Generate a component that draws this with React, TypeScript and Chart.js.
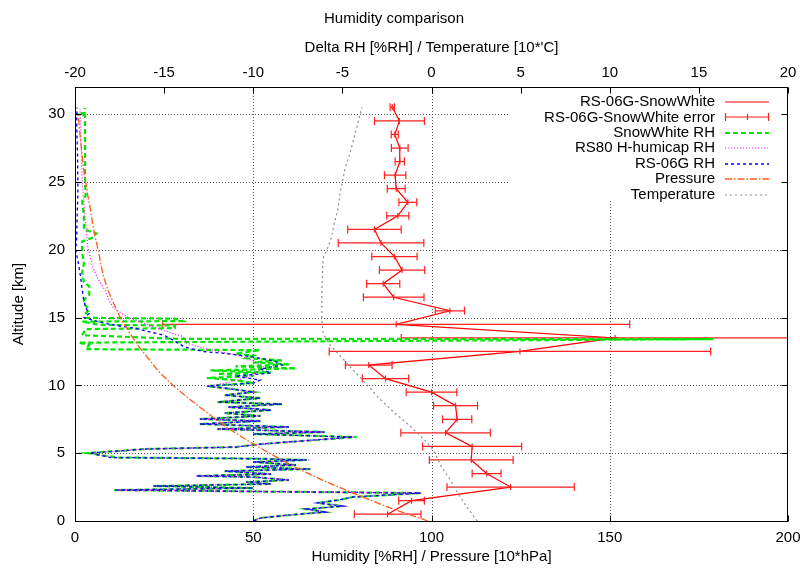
import React, { useEffect, useRef } from "react";
import { Chart, registerables } from "chart.js";

Chart.register(...registerables);

const FONT_FAMILY = "'Liberation Sans', Arial, Helvetica, sans-serif";

// ---------------- data ----------------
const humidityTicks = [0, 50, 100, 150, 200];
const deltaTicks = [-20, -15, -10, -5, 0, 5, 10, 15, 20];
const altitudeTicks = [0, 5, 10, 15, 20, 25, 30];

const seriesNames = [
  "RS-06G-SnowWhite",
  "RS-06G-SnowWhite error",
  "SnowWhite RH",
  "RS80 H-humicap RH",
  "RS-06G RH",
  "Pressure",
  "Temperature",
];

// RS-06G minus SnowWhite difference (top axis) with x error bars
const deltaAlt = [0.5, 1.5, 2.5, 3.5, 4.5, 5.5, 6.5, 7.5, 8.5, 9.5, 10.5, 11.5, 12.5, 13.5, 14.5, 15.5, 16.5, 17.5, 18.5, 19.5, 20.5, 21.5, 22.5, 23.5, 24.5, 25.5, 26.5, 27.5, 28.5, 29.5, 30.5];
const deltaRH = [-2.46, -1.12, 4.44, 3.09, 2.23, 2.28, 0.79, 1.44, 1.35, 0.0, -2.58, -3.52, 4.96, 10.3, -1.98, 1.03, -2.12, -2.71, -1.65, -2.08, -2.83, -3.2, -1.89, -1.33, -1.98, -2.04, -1.78, -1.78, -2.06, -1.8, -2.2];
const deltaErr = [1.87, 0.72, 3.57, 0.81, 2.35, 2.78, 2.51, 0.82, 1.23, 1.42, 1.3, 1.31, 10.7, 12.0, 13.1, 0.82, 1.7, 0.93, 1.27, 1.27, 2.4, 1.5, 0.62, 0.5, 0.5, 0.6, 0.26, 0.47, 0.2, 1.4, 0.12];

// SnowWhite RH
const swAlt = [0.0, 0.22, 0.44, 0.66, 0.88, 1.1, 1.33, 1.55, 1.77, 1.95, 2.06, 2.28, 2.43, 2.58, 2.73, 2.87, 3.02, 3.24, 3.32, 3.46, 3.68, 3.83, 3.98, 4.13, 4.35, 4.5, 4.6, 4.68, 5.01, 5.31, 5.45, 5.67, 6.19, 6.41, 6.56, 6.78, 6.93, 7.15, 7.37, 7.52, 7.74, 7.96, 8.18, 8.4, 8.62, 8.77, 9.06, 9.28, 9.51, 9.73, 9.95, 10.17, 10.39, 10.55, 10.69, 10.85, 10.95, 11.1, 11.25, 11.4, 11.55, 11.7, 11.85, 12.0, 12.2, 12.35, 12.6, 12.67, 13.0, 13.15, 13.41, 13.43, 13.7, 14.15, 14.22, 14.42, 14.46, 14.7, 14.74, 14.92, 14.98, 15.3, 15.6, 16.0, 16.3, 16.7, 17.3, 17.6, 18.3, 19.0, 19.8, 20.6, 20.9, 21.2, 21.5, 22.5, 23.6, 24.0, 25.0, 27.0, 29.9, 30.0, 30.1, 30.45];
const swRH = [50, 52, 60, 70, 65, 75, 68, 74, 78, 90, 97, 11, 50, 22, 55, 48, 60, 50, 34, 55, 42, 66, 48, 62, 50, 65, 50, 12, 3.5, 20, 45, 52, 79, 50, 70, 40, 60, 35, 52, 35, 52, 42, 55, 43, 58, 40, 52, 42, 50, 44, 37, 50, 45, 37, 50, 40, 55, 38, 62, 45, 60, 50, 58, 48, 50, 45, 52, 3, 4, 1, 179, 29, 2, 3, 28, 28, 7, 2, 30, 28, 3, 3, 4, 2.5, 2.5, 4, 4, 2.5, 2, 2.5, 2, 2, 5, 6, 2.5, 2.5, 2, 3, 2.8, 2.8, 2.8, 0.3, 2.8, 2.8];

// RS80 H-humicap RH
const rs80Alt = [0.0, 0.22, 0.44, 0.66, 0.88, 1.1, 1.33, 1.55, 1.77, 1.95, 2.06, 2.28, 2.43, 2.58, 2.73, 2.87, 3.02, 3.24, 3.32, 3.46, 3.68, 3.83, 3.98, 4.13, 4.35, 4.5, 4.6, 4.68, 5.01, 5.31, 5.45, 5.67, 6.19, 6.41, 6.56, 6.78, 6.93, 7.15, 7.37, 7.52, 7.74, 7.96, 8.18, 8.4, 8.62, 8.77, 9.06, 9.28, 9.51, 9.73, 9.95, 10.17, 10.4, 10.8, 11.35, 11.8, 12.2, 12.45, 12.75, 13.1, 13.6, 13.9, 14.4, 15.0, 15.7, 16.3, 17.0, 17.8, 18.7, 20.2, 22.4, 25.1, 28.0, 30.4];
const rs80RH = [50, 52, 60, 70, 65, 75, 68, 74, 78, 90, 97, 12, 50, 22, 55, 48, 60, 50, 34, 55, 42, 66, 48, 62, 50, 66, 50, 11, 4.5, 20, 45, 52, 78, 50, 70, 40, 60, 35, 52, 35, 52, 42, 55, 43, 58, 40, 52, 42, 50, 44, 37, 42, 46, 50, 53, 50, 46, 41, 36, 31.4, 30.3, 26.6, 21, 15, 10.8, 9.5, 8.5, 6.5, 5, 3.6, 2.8, 2, 1.7, 1.4];

// RS-06G RH
const rs06Alt = [0.0, 0.22, 0.44, 0.66, 0.88, 1.1, 1.33, 1.55, 1.77, 1.95, 2.06, 2.28, 2.43, 2.58, 2.73, 2.87, 3.02, 3.24, 3.32, 3.46, 3.68, 3.83, 3.98, 4.13, 4.35, 4.5, 4.6, 4.68, 5.01, 5.31, 5.45, 5.67, 6.19, 6.41, 6.56, 6.78, 6.93, 7.15, 7.37, 7.52, 7.74, 7.96, 8.18, 8.4, 8.62, 8.77, 9.06, 9.28, 9.51, 9.73, 9.95, 10.17, 10.39, 10.69, 10.91, 11.2, 11.5, 11.79, 12.09, 12.3, 12.5, 12.8, 13.1, 13.4, 13.7, 14.0, 14.2, 14.4, 14.6, 14.8, 15.0, 15.3, 15.7, 16.5, 17.5, 18.3, 19.2, 20.0, 21.0, 22.5, 24.0, 25.0, 27.0, 29.0, 30.0, 30.5];
const rs06RH = [50, 52, 60, 70, 65, 75, 68, 74, 78, 90, 97, 11, 50, 22, 55, 48, 60, 50, 34, 55, 42, 66, 48, 62, 50, 65, 50, 10, 4, 20, 45, 52, 78, 50, 70, 40, 60, 35, 52, 35, 52, 42, 55, 43, 58, 40, 52, 42, 50, 44, 37, 50, 52, 45, 55, 52, 58, 56, 50, 44, 36, 31, 29, 27, 25, 20, 17, 12, 8, 5, 2.5, 4, 3, 2.3, 1.8, 1.4, 0.8, 0.2, 0.5, 0.6, 0.8, 0.8, 0.7, 0.5, 0.5, 0.6];

// Pressure [10*hPa]
const pressureAlt = [0, 1, 2, 3, 4, 5, 6, 7, 8, 9, 10, 11, 12, 13, 14, 15, 16, 17, 18, 19, 20, 21, 22, 23, 24, 25, 26, 27, 28, 29, 30];
const pressure = [99, 88, 78.5, 69.5, 61.5, 54.5, 48, 42, 37, 32, 27.5, 23.5, 20.5, 17.5, 15, 12.7, 10.9, 9.3, 8.0, 7.2, 6.5, 5.6, 4.9, 4.3, 3.6, 3.0, 2.4, 2.0, 1.6, 1.2, 0.9];

// Temperature [10*'C] (top axis)
const tempAlt = [0, 1, 2, 3, 4, 5, 5.5, 6, 7, 8, 9, 10, 11, 12, 13, 13.5, 14, 15, 16, 17, 18, 19, 19.5, 20, 21, 22, 23, 24, 25, 26, 27, 28, 29, 30, 30.5];
const temperature = [2.57, 2.0, 1.5, 1.07, 0.55, 0.2, -0.06, -0.4, -1.2, -2.1, -2.9, -3.6, -4.3, -5.0, -5.7, -5.95, -6.1, -6.15, -6.15, -6.15, -6.12, -6.1, -6.05, -5.86, -5.6, -5.45, -5.25, -5.15, -5.0, -4.85, -4.6, -4.4, -4.2, -4.0, -3.9];

// ---------------- styles ----------------
const STY = [
  { color: "#ff0000", width: 1.2, dash: [] as number[] },
  { color: "#ff2020", width: 1.2, dash: [] as number[] },
  { color: "#00e600", width: 2.2, dash: [5, 3] },
  { color: "#ff00ff", width: 1.2, dash: [1, 2] },
  { color: "#0000ff", width: 1.3, dash: [3, 3] },
  { color: "#ff5a1a", width: 1.3, dash: [7, 2, 1.5, 2] },
  { color: "#8a8a8a", width: 1.2, dash: [2, 3] },
];

const pts = (xs: number[], ys: number[]) => xs.map((v, i) => ({ x: v, y: ys[i] }));

const gnuPlugin = {
  id: "gnu",
  beforeDatasetsDraw(chart: any) {
    const { ctx, chartArea: a, scales } = chart;
    ctx.save();
    ctx.strokeStyle = "#505050";
    ctx.lineWidth = 1;
    ctx.setLineDash([1, 2]);
    ctx.beginPath();
    humidityTicks.forEach((v) => {
      if (v <= 0 || v >= 200) return;
      const px = Math.round(scales.x.getPixelForValue(v)) + 0.5;
      ctx.moveTo(px, a.top);
      ctx.lineTo(px, a.bottom);
    });
    altitudeTicks.forEach((v) => {
      if (v <= 0) return;
      const py = Math.round(scales.y.getPixelForValue(v)) + 0.5;
      ctx.moveTo(a.left, py);
      ctx.lineTo(a.right, py);
    });
    ctx.stroke();
    ctx.restore();
  },
  afterDatasetDraw(chart: any, args: any) {
    if (args.index !== 0) return;
    const { ctx, chartArea: a, scales } = chart;
    ctx.save();
    ctx.beginPath();
    ctx.rect(a.left, a.top, a.right - a.left, a.bottom - a.top);
    ctx.clip();
    ctx.strokeStyle = STY[1].color;
    ctx.lineWidth = STY[1].width;
    ctx.setLineDash([]);
    ctx.beginPath();
    deltaAlt.forEach((alt, i) => {
      const py = scales.y.getPixelForValue(alt);
      const pc = scales.x2.getPixelForValue(deltaRH[i]);
      const pl = scales.x2.getPixelForValue(deltaRH[i] - deltaErr[i]);
      const pr = scales.x2.getPixelForValue(deltaRH[i] + deltaErr[i]);
      ctx.moveTo(pl, py);
      ctx.lineTo(pr, py);
      ctx.moveTo(pl, py - 4);
      ctx.lineTo(pl, py + 4);
      ctx.moveTo(pr, py - 4);
      ctx.lineTo(pr, py + 4);
      ctx.moveTo(pc, py - 3);
      ctx.lineTo(pc, py + 3);
    });
    ctx.stroke();
    ctx.restore();
  },
  afterDatasetsDraw(chart: any) {
    const { ctx, chartArea: a, scales } = chart;
    ctx.save();
    // opaque key box
    const kx0 = 508;
    const ky1 = 201;
    ctx.fillStyle = "#ffffff";
    ctx.fillRect(kx0, a.top + 1, a.right - kx0 - 1, ky1 - a.top - 1);
    ctx.font = `15px ${FONT_FAMILY}`;
    ctx.textAlign = "right";
    ctx.textBaseline = "middle";
    seriesNames.forEach((name, i) => {
      const cy = 102 + i * 15.45;
      ctx.fillStyle = "#000";
      ctx.fillText(name, 715, cy);
      const s = STY[i];
      const ly = Math.round(cy);
      ctx.strokeStyle = s.color;
      ctx.lineWidth = s.width;
      ctx.setLineDash(s.dash);
      ctx.beginPath();
      ctx.moveTo(725, ly);
      ctx.lineTo(769, ly);
      if (i === 1) {
        ctx.moveTo(725.5, ly - 4);
        ctx.lineTo(725.5, ly + 4);
        ctx.moveTo(768.5, ly - 4);
        ctx.lineTo(768.5, ly + 4);
        ctx.moveTo(747.5, ly - 3);
        ctx.lineTo(747.5, ly + 3);
      }
      ctx.stroke();
    });
    ctx.setLineDash([]);
    // frame
    ctx.strokeStyle = "#000";
    ctx.lineWidth = 1;
    const L = Math.round(a.left) + 0.5;
    const R = Math.round(a.right) - 0.5;
    const T = Math.round(a.top) + 0.5;
    const B = Math.round(a.bottom) + 0.5;
    ctx.strokeRect(L, T, R - L, B - T);
    ctx.beginPath();
    const tl = 6;
    humidityTicks.forEach((v) => {
      const px = Math.round(scales.x.getPixelForValue(v)) + 0.5;
      ctx.moveTo(px, B);
      ctx.lineTo(px, B - tl);
    });
    deltaTicks.forEach((v) => {
      const px = Math.round(scales.x2.getPixelForValue(v)) + 0.5;
      ctx.moveTo(px, T);
      ctx.lineTo(px, T + tl);
    });
    altitudeTicks.forEach((v) => {
      const py = Math.round(scales.y.getPixelForValue(v)) + 0.5;
      ctx.moveTo(L, py);
      ctx.lineTo(L + tl, py);
      ctx.moveTo(R, py);
      ctx.lineTo(R - tl, py);
    });
    ctx.stroke();
    ctx.restore();
  },
};

const tickFont = { family: FONT_FAMILY, size: 15 };

export default function App() {
  const ref = useRef<HTMLCanvasElement>(null);
  useEffect(() => {
    if (!ref.current) return;
    const mk = (i: number, data: any[], xAxisID: string, order: number) => ({
      label: seriesNames[i],
      data,
      xAxisID,
      yAxisID: "y",
      showLine: true,
      borderColor: STY[i].color,
      backgroundColor: STY[i].color,
      borderWidth: STY[i].width,
      borderDash: STY[i].dash,
      pointRadius: 0,
      fill: false,
      tension: 0,
      order,
    });
    const chart = new Chart(ref.current, {
      type: "scatter",
      data: {
        datasets: [
          mk(0, pts(deltaRH, deltaAlt), "x2", 7),
          mk(2, pts(swRH, swAlt), "x", 6),
          mk(3, pts(rs80RH, rs80Alt), "x", 5),
          mk(4, pts(rs06RH, rs06Alt), "x", 4),
          mk(5, pts(pressure, pressureAlt), "x", 3),
          mk(6, pts(temperature, tempAlt), "x2", 2),
        ] as any,
      },
      options: {
        responsive: false,
        animation: false,
        devicePixelRatio: 1,
        layout: { padding: { left: 0, right: 12, top: 0, bottom: 0 } },
        plugins: {
          legend: { display: false },
          tooltip: { enabled: false },
          title: {
            display: true,
            text: "Humidity comparison",
            color: "#000",
            font: { family: FONT_FAMILY, size: 15, weight: "normal" },
            padding: { top: 10, bottom: 10 },
          },
        },
        scales: {
          x: {
            type: "linear",
            position: "bottom",
            min: 0,
            max: 200,
            afterBuildTicks: (s: any) => {
              s.ticks = humidityTicks.map((v) => ({ value: v }));
            },
            afterFit: (s: any) => {
              s.height = 51;
              s.paddingLeft = 0;
              s.paddingRight = 0;
            },
            grid: { display: false, drawTicks: false },
            border: { display: false },
            ticks: { color: "#000", font: tickFont, padding: 8, maxRotation: 0 },
            title: {
              display: true,
              text: "Humidity [%RH] / Pressure [10*hPa]",
              color: "#000",
              font: tickFont,
              padding: { top: 0, bottom: 6 },
            },
          },
          x2: {
            type: "linear",
            position: "top",
            min: -20,
            max: 20,
            afterBuildTicks: (s: any) => {
              s.ticks = deltaTicks.map((v) => ({ value: v }));
            },
            afterFit: (s: any) => {
              s.height = 49;
              s.paddingLeft = 0;
              s.paddingRight = 0;
            },
            grid: { display: false, drawTicks: false },
            border: { display: false },
            ticks: { color: "#000", font: tickFont, padding: 5, maxRotation: 0 },
            title: {
              display: true,
              text: "Delta RH [%RH] / Temperature [10*'C]",
              color: "#000",
              font: tickFont,
              padding: { top: 1, bottom: 0 },
            },
          },
          y: {
            type: "linear",
            position: "left",
            min: 0,
            max: 32,
            afterBuildTicks: (s: any) => {
              s.ticks = altitudeTicks.map((v) => ({ value: v }));
            },
            afterFit: (s: any) => {
              s.width = 75;
              s.paddingTop = 0;
              s.paddingBottom = 0;
            },
            grid: { display: false, drawTicks: false },
            border: { display: false },
            ticks: { color: "#000", font: tickFont, padding: 10 },
            title: {
              display: true,
              text: "Altitude [km]",
              color: "#000",
              font: tickFont,
              padding: { top: 10, bottom: 0 },
            },
          },
        },
      } as any,
      plugins: [gnuPlugin],
    });
    return () => chart.destroy();
  }, []);
  return (
    <canvas
      ref={ref}
      width={800}
      height={572}
      style={{ position: "absolute", left: 0, top: 0, width: 800, height: 572 }}
    />
  );
}
